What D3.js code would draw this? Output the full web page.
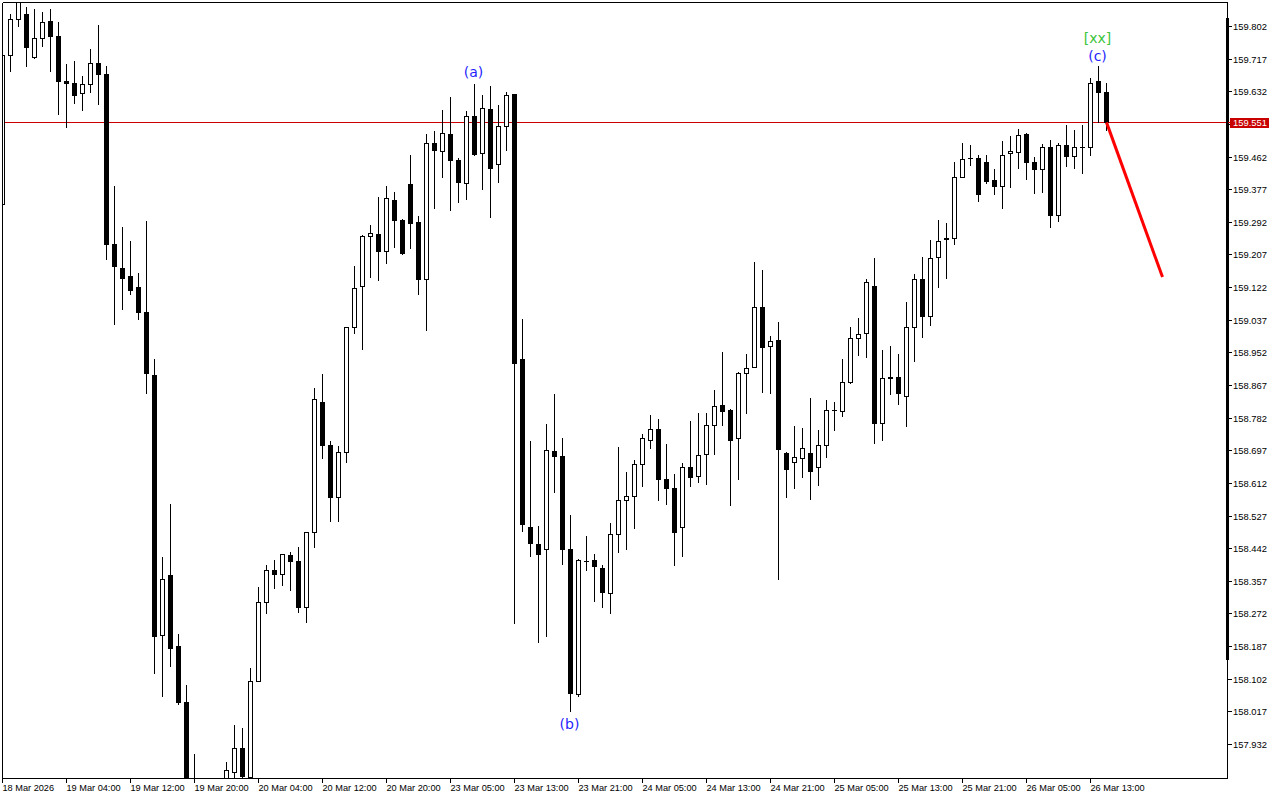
<!DOCTYPE html>
<html><head><meta charset="utf-8">
<script src="https://cdn.jsdelivr.net/npm/d3@7"></script>
<style>html,body{margin:0;padding:0;background:#fff;overflow:hidden}svg{display:block}</style>
</head><body>
<svg id="chart" width="1280" height="800"></svg>
<script>
const opens = [159.338,159.727,159.820,159.833,159.720,159.772,159.814,159.775,159.659,159.654,
159.627,159.650,159.706,159.678,159.234,159.172,159.150,159.123,159.056,158.893,
158.216,158.371,158.187,158.041,157.790,157.740,157.720,157.760,157.800,157.860,
157.921,157.847,158.095,158.302,158.386,158.375,158.423,158.408,158.289,158.483,
158.823,158.710,158.575,158.693,159.018,159.124,159.254,159.260,159.217,159.349,
159.298,159.390,159.292,159.144,159.498,159.476,159.520,159.453,159.393,159.568,
159.472,159.585,159.442,159.541,159.624,158.936,158.498,158.452,158.439,158.696,
158.681,158.441,158.061,158.408,158.412,158.390,158.326,158.479,158.567,158.578,
158.661,158.724,158.753,158.622,158.598,158.498,158.653,158.631,158.687,158.763,
158.814,158.802,158.728,158.899,158.915,159.070,158.969,158.985,158.691,158.667,
158.677,158.691,158.653,158.710,158.802,158.799,158.875,158.990,159.002,159.125,
158.767,158.885,158.887,158.839,159.019,159.144,159.046,159.201,159.247,159.250,
159.409,159.457,159.459,159.449,159.402,159.385,159.470,159.475,159.521,159.449,
159.430,159.486,159.309,159.492,159.464,159.486,159.486,159.658,159.631];
const highs = [159.760,159.833,159.885,159.851,159.846,159.838,159.846,159.813,159.702,159.711,
159.673,159.743,159.804,159.699,159.384,159.279,159.243,159.158,159.294,158.934,
158.420,158.556,158.218,158.086,157.906,157.820,157.810,157.830,157.885,157.982,
157.973,158.129,158.342,158.399,158.410,158.428,158.431,158.445,158.485,158.860,
158.896,158.722,158.709,159.018,159.178,159.258,159.283,159.356,159.384,159.370,
159.300,159.467,159.307,159.521,159.528,159.584,159.616,159.459,159.581,159.651,
159.623,159.647,159.597,159.629,159.626,159.039,158.720,158.501,158.766,158.843,
158.730,158.528,158.415,158.475,158.426,158.399,158.508,158.706,158.640,158.671,
158.740,158.790,158.779,158.713,158.635,158.664,158.774,158.794,158.794,158.855,
158.952,158.805,158.900,158.948,159.188,159.166,158.994,159.031,158.693,158.761,
158.754,158.834,158.750,158.827,158.823,158.936,159.018,159.042,159.144,159.197,
158.958,158.969,158.949,159.082,159.157,159.201,159.245,159.296,159.290,159.449,
159.496,159.492,159.466,159.465,159.429,159.502,159.515,159.535,159.523,159.462,
159.495,159.506,159.498,159.543,159.532,159.545,159.667,159.698,159.654];
const lows = [159.330,159.684,159.801,159.698,159.718,159.749,159.684,159.573,159.539,159.602,
159.582,159.631,159.600,159.194,159.026,159.064,159.104,159.038,158.847,158.118,
158.057,158.134,158.036,157.760,157.700,157.680,157.660,157.700,157.780,157.820,
157.830,157.841,158.095,158.273,158.339,158.346,158.333,158.277,158.251,158.445,
158.677,158.512,158.512,158.667,159.002,158.962,159.148,159.141,159.184,159.227,
159.207,159.225,159.104,159.009,159.329,159.410,159.323,159.344,159.352,159.466,
159.378,159.305,159.396,159.479,158.247,158.488,158.422,158.198,158.213,158.588,
158.402,158.017,158.057,158.386,158.304,158.289,158.273,158.432,158.439,158.494,
158.604,158.704,158.567,158.558,158.399,158.422,158.604,158.614,158.608,158.687,
158.762,158.554,158.622,158.794,158.913,158.848,158.846,158.362,158.574,158.600,
158.628,158.569,158.607,158.680,158.750,158.786,158.873,158.945,158.940,158.717,
158.724,158.843,158.817,158.759,158.929,158.993,159.022,159.121,159.145,159.234,
159.409,159.439,159.345,159.393,159.365,159.327,159.382,159.433,159.404,159.366,
159.369,159.278,159.294,159.437,159.433,159.419,159.466,159.552,159.532];
const closes = [159.727,159.820,159.875,159.747,159.772,159.812,159.775,159.658,159.654,159.622,
159.650,159.706,159.678,159.234,159.176,159.145,159.115,159.056,158.899,158.213,
158.361,158.183,158.041,157.780,157.740,157.720,157.760,157.800,157.864,157.921,
157.849,158.095,158.302,158.386,158.375,158.426,158.408,158.289,158.483,158.830,
158.710,158.575,158.693,159.017,159.119,159.254,159.263,159.217,159.355,159.298,
159.211,159.290,159.144,159.498,159.479,159.523,159.453,159.396,159.568,159.468,
159.588,159.433,159.541,159.621,158.925,158.505,158.455,158.428,158.697,158.683,
158.441,158.065,158.412,158.409,158.395,158.329,158.479,158.567,158.578,158.661,
158.728,158.753,158.622,158.598,158.485,158.653,158.627,158.684,158.763,158.812,
158.799,158.724,158.899,158.912,159.070,158.965,158.982,158.700,158.647,158.680,
158.704,158.644,158.710,158.802,158.803,158.875,158.990,158.999,159.134,158.767,
158.885,158.887,158.846,159.019,159.144,159.048,159.198,159.243,159.251,159.409,
159.455,159.458,159.365,159.398,159.385,159.466,159.476,159.519,159.449,159.430,
159.486,159.309,159.492,159.464,159.486,159.487,159.654,159.631,159.551];

const timeTickIndex = [0,8,16,24,32,40,48,56,64,72,80,88,96,104,112,120,128,136];
const timeTickLabels = ["18 Mar 2026","19 Mar 04:00","19 Mar 12:00","19 Mar 20:00","20 Mar 04:00",
"20 Mar 12:00","20 Mar 20:00","23 Mar 05:00","23 Mar 13:00","23 Mar 21:00","24 Mar 05:00",
"24 Mar 13:00","24 Mar 21:00","25 Mar 05:00","25 Mar 13:00","25 Mar 21:00","26 Mar 05:00","26 Mar 13:00"];
const priceTicks = [159.802,159.717,159.632,159.547,159.462,159.377,159.292,159.207,159.122,159.037,
158.952,158.867,158.782,158.697,158.612,158.527,158.442,158.357,158.272,158.187,158.102,158.017,157.932];
const currentPrice = 159.551;
const waveText = ["(a)","(b)","(c)","[xx]"];
const waveIndex = [59,71,137,137];
const waveSide = ["above","below","above","above2"];
const projIndex = [138,145];
const projPrice = [159.551,159.148];

const svg = d3.select("#chart");
const W = 1280, H = 800;
const plotL = 2, plotR = 1228, plotT = 2, plotB = 778;

const x = d3.scaleLinear().domain([0,1]).range([2.5,10.5]);
const y = d3.scaleLinear().domain([157.932,159.802]).range([744,26]);

svg.append("rect").attr("width",W).attr("height",H).attr("fill","#fff");

const defs = svg.append("defs");
defs.append("clipPath").attr("id","plotclip").append("rect")
  .attr("x",plotL+1).attr("y",plotT+1).attr("width",plotR-plotL-1).attr("height",plotB-plotT-1);

const plot = svg.append("g").attr("clip-path","url(#plotclip)");

const cpY = Math.round(y(currentPrice))+0.5;
plot.append("line").attr("x1",plotL).attr("x2",plotR).attr("y1",cpY).attr("y2",cpY)
  .attr("stroke","#cc0000").attr("stroke-width",1);

const idx = d3.range(opens.length);
const cg = plot.append("g").attr("shape-rendering","crispEdges");
idx.forEach(i=>{
  const cx = x(i);
  const yh = Math.round(y(highs[i])), yl = Math.round(y(lows[i]));
  cg.append("line").attr("x1",cx).attr("x2",cx).attr("y1",yh).attr("y2",yl+1)
    .attr("stroke","#000").attr("stroke-width",1);
  const top = Math.round(y(Math.max(opens[i],closes[i])));
  const bot = Math.round(y(Math.min(opens[i],closes[i])));
  const bear = closes[i] < opens[i];
  if (bot - top < 1) {
    cg.append("line").attr("x1",cx-2.5).attr("x2",cx+2.5).attr("y1",top+0.5).attr("y2",top+0.5)
      .attr("stroke","#000").attr("stroke-width",1);
  } else {
    cg.append("rect").attr("x",cx-2).attr("y",top+0.5).attr("width",4).attr("height",bot-top)
      .attr("fill",bear?"#000":"#fff").attr("stroke","#000").attr("stroke-width",1);
  }
});

plot.append("line")
  .attr("x1",x(projIndex[0])).attr("y1",y(projPrice[0]))
  .attr("x2",x(projIndex[1])).attr("y2",y(projPrice[1]))
  .attr("stroke","#ff0000").attr("stroke-width",3);

waveText.forEach((t,k)=>{
  const i = waveIndex[k];
  let yy, col = "#1f1fff";
  if (waveSide[k]==="above") yy = y(highs[i]) - (i===137 ? 4.5 : 6.5);
  else if (waveSide[k]==="below") yy = y(lows[i]) + 18;
  else { yy = y(highs[i]) - 22.5; col = "#3cc43c"; }
  svg.append("text").attr("x",x(i)-1).attr("y",yy).attr("text-anchor","middle")
    .attr("font-family","DejaVu Sans").attr("font-size","14px").attr("fill",col).text(t);
});

const fr = svg.append("g").attr("shape-rendering","crispEdges").attr("stroke","#000").attr("stroke-width",1);
fr.append("line").attr("x1",plotL+0.5).attr("x2",plotR-0.5).attr("y1",plotT+0.5).attr("y2",plotT+0.5);
fr.append("line").attr("x1",plotL+0.5).attr("x2",plotL+0.5).attr("y1",plotT+0.5).attr("y2",plotB+0.5);
fr.append("line").attr("x1",plotR-0.5).attr("x2",plotR-0.5).attr("y1",plotT+0.5).attr("y2",plotB+0.5);
fr.append("line").attr("x1",plotL+0.5).attr("x2",plotR-0.5).attr("y1",plotB+0.5).attr("y2",plotB+0.5);
svg.append("rect").attr("x",1226).attr("y",18).attr("width",3).attr("height",642).attr("fill","#000");

const pa = svg.append("g");
priceTicks.forEach(p=>{
  const yy = Math.round(y(p))+0.5;
  pa.append("line").attr("x1",1228).attr("x2",1232).attr("y1",yy).attr("y2",yy)
    .attr("stroke","#000").attr("shape-rendering","crispEdges");
  pa.append("text").attr("x",1233).attr("y",yy+3.4)
    .attr("font-family","Liberation Sans, Arial, sans-serif").attr("font-size","9.4px").attr("fill","#000")
    .text(d3.format(".3f")(p));
});
pa.append("rect").attr("x",1230).attr("y",cpY-4.5).attr("width",39).attr("height",10).attr("fill","#c80000");
pa.append("line").attr("x1",1228).attr("x2",1231).attr("y1",cpY).attr("y2",cpY).attr("stroke","#c80000");
pa.append("text").attr("x",1233).attr("y",cpY+3.4)
  .attr("font-family","Liberation Sans, Arial, sans-serif").attr("font-size","9.4px").attr("fill","#fff")
  .text(d3.format(".3f")(currentPrice));

const ta = svg.append("g");
timeTickIndex.forEach((ti,k)=>{
  const xx = x(ti);
  ta.append("line").attr("x1",xx).attr("x2",xx).attr("y1",779).attr("y2",783)
    .attr("stroke","#000").attr("shape-rendering","crispEdges");
  ta.append("text").attr("x",xx).attr("y",791)
    .attr("font-family","Liberation Sans, Arial, sans-serif").attr("font-size","9.2px").attr("fill","#000")
    .text(timeTickLabels[k]);
});
</script>
</body></html>
